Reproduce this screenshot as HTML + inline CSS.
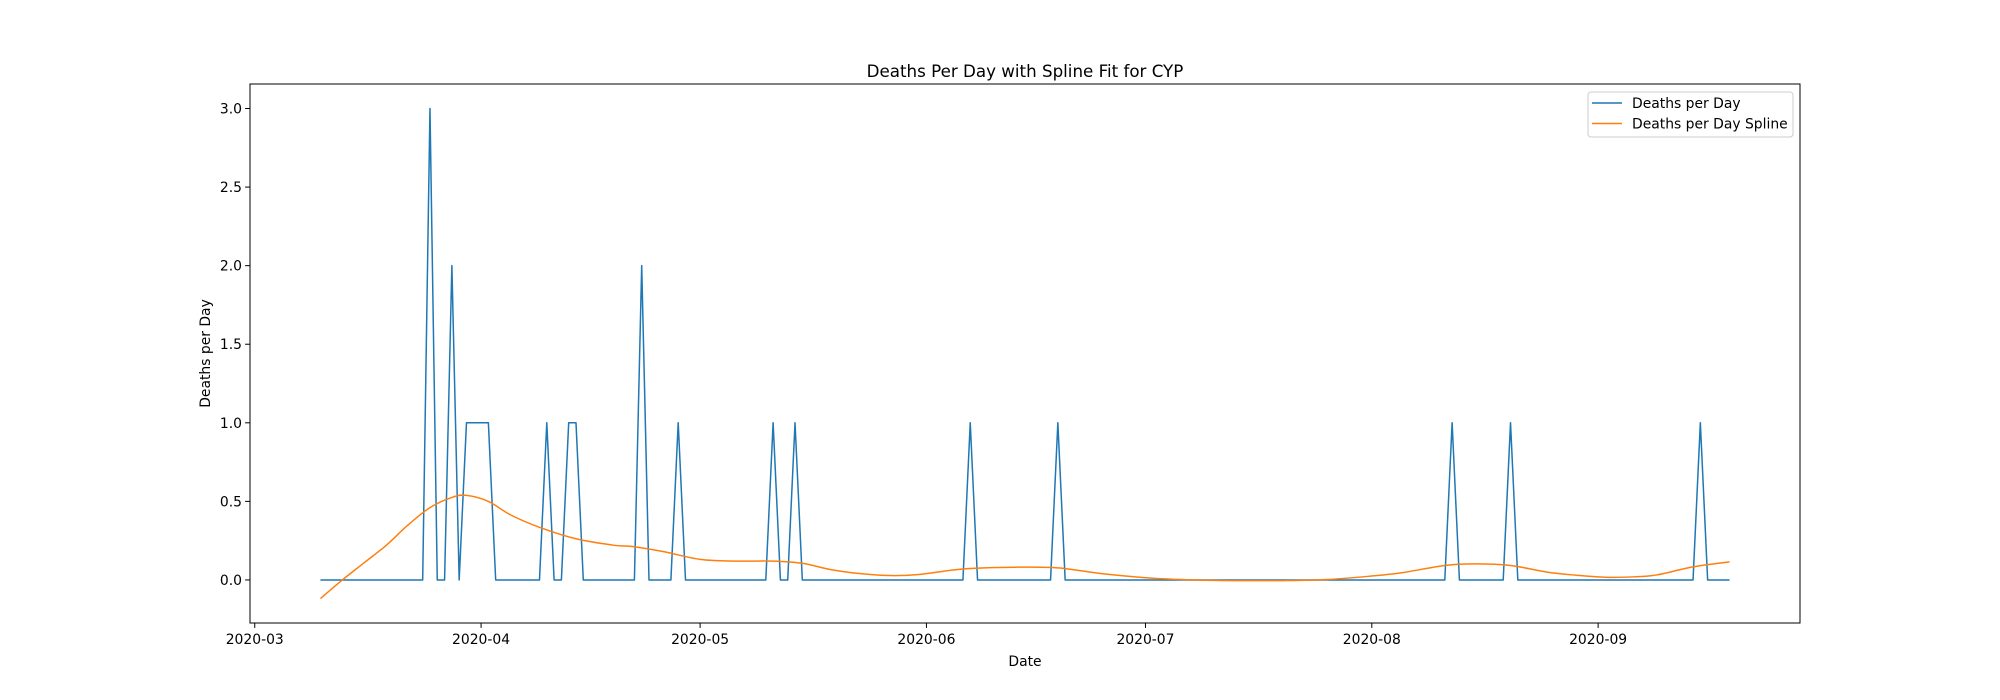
<!DOCTYPE html>
<html><head><meta charset="utf-8"><style>
body{margin:0;background:#fff}
svg{display:block;font-family:"DejaVu Sans","Liberation Sans",sans-serif}
</style></head><body>
<svg id="chart" width="2000" height="700" viewBox="0 0 2000 700" xmlns="http://www.w3.org/2000/svg"></svg>
<script>
// data: day offsets from 2020-03-10
const deathsPerDay = [
0,0,0,0,0,0,0,0,0,0,
0,0,0,0,0,3,0,0,2,0,
1,1,1,1,0,0,0,0,0,0,
0,1,0,0,1,1,0,0,0,0,
0,0,0,0,2,0,0,0,0,1,
0,0,0,0,0,0,0,0,0,0,
0,0,1,0,0,1,0,0,0,0,
0,0,0,0,0,0,0,0,0,0,
0,0,0,0,0,0,0,0,0,1,
0,0,0,0,0,0,0,0,0,0,
0,1,0,0,0,0,0,0,0,0,
0,0,0,0,0,0,0,0,0,0,
0,0,0,0,0,0,0,0,0,0,
0,0,0,0,0,0,0,0,0,0,
0,0,0,0,0,0,0,0,0,0,
0,0,0,0,0,1,0,0,0,0,
0,0,0,1,0,0,0,0,0,0,
0,0,0,0,0,0,0,0,0,0,
0,0,0,0,0,0,0,0,0,1,
0,0,0,0];
const splineDays = [0,3,6,9,12,15,18,20,23,26,30,35,40,43,47,52,57,62,66,70,74,78,82,88,95,101,107,114,120,126,132,138,144,148,154,158,163,168,172,176,180,183,188,193];
const splineValues = [-0.118,0,0.11,0.22,0.35,0.46,0.525,0.538,0.50,0.415,0.335,0.262,0.222,0.211,0.18,0.131,0.12,0.12,0.106,0.065,0.04,0.028,0.035,0.07,0.081,0.077,0.04,0.011,0.0,-0.004,-0.004,0.003,0.025,0.045,0.092,0.102,0.092,0.05,0.03,0.017,0.02,0.032,0.083,0.115];
const yTicks = [0,0.5,1,1.5,2,2.5,3];
const yTickLabels = ["0.0","0.5","1.0","1.5","2.0","2.5","3.0"];
const xTickDays = [-9,22,52,83,113,144,175]; // month starts relative to 2020-03-10
const xTickLabels = ["2020-03","2020-04","2020-05","2020-06","2020-07","2020-08","2020-09"];

const svg = document.getElementById('chart');
const NS = 'http://www.w3.org/2000/svg';
const L=250,R=1800,T=84,B=623;
const nDays = deathsPerDay.length-1;
const xMin = -0.05*nDays, xMax = nDays*1.05;
const x = d => L + (d - xMin)/(xMax-xMin)*(R-L);
let vmin = Math.min(0, ...splineValues), vmax = Math.max(...deathsPerDay);
const yr = vmax - vmin, y0 = vmin-0.05*yr, y1 = vmax+0.05*yr;
const y = v => B - (v - y0)/(y1-y0)*(B-T);
function mk(tag, attrs){const e=document.createElementNS(NS,tag);for(const k in attrs)e.setAttribute(k,attrs[k]);svg.appendChild(e);return e;}

const title = mk('text',{x:(L+R)/2,y:T-7,'text-anchor':'middle','font-size':'16.7'});
title.textContent='Deaths Per Day with Spline Fit for CYP';



yTicks.forEach((t,i)=>{
  const tk = mk('line',{x1:L-4.9,x2:L,y1:y(t),y2:y(t),stroke:'#000','stroke-width':'1'});
  
  
  const lb = mk('text',{x:L-8,y:y(t)+5,'text-anchor':'end','font-size':'13.9'});
  lb.textContent=yTickLabels[i];
  
  
});
xTickDays.forEach((d,i)=>{
  const tk = mk('line',{x1:x(d),x2:x(d),y1:B,y2:B+4.9,stroke:'#000','stroke-width':'1'});
  
  
  const lb = mk('text',{x:x(d),y:B+21,'text-anchor':'middle','font-size':'13.9'});
  lb.textContent=xTickLabels[i];
  
  
});
const xl = mk('text',{x:(L+R)/2,y:B+43,'text-anchor':'middle','font-size':'13.9'});
xl.textContent='Date';


const yl = mk('text',{x:0,y:0,'text-anchor':'middle','font-size':'13.9',transform:`translate(210,${(T+B)/2}) rotate(-90)`});
yl.textContent='Deaths per Day';



// deaths line
const dPts = deathsPerDay.map((v,i)=>x(i).toFixed(2)+','+y(v).toFixed(2)).join(' ');
const dl = mk('polyline',{points:dPts,fill:'none',stroke:'#1f77b4','stroke-width':'1.5','stroke-linejoin':'round'});



// spline (Catmull-Rom through samples)
const P = splineDays.map((d,i)=>[x(d),y(splineValues[i])]);
let dstr = `M${P[0][0]},${P[0][1]}`;
for(let i=0;i<P.length-1;i++){
  const p0=P[Math.max(0,i-1)],p1=P[i],p2=P[i+1],p3=P[Math.min(P.length-1,i+2)];
  const c1=[p1[0]+(p2[0]-p0[0])/6,p1[1]+(p2[1]-p0[1])/6];
  const c2=[p2[0]-(p3[0]-p1[0])/6,p2[1]-(p3[1]-p1[1])/6];
  dstr+=` C${c1[0]},${c1[1]} ${c2[0]},${c2[1]} ${p2[0]},${p2[1]}`;
}
const sl = mk('path',{d:dstr,fill:'none',stroke:'#ff7f0e','stroke-width':'1.5'});



const frame = mk('rect',{x:L,y:T,width:R-L,height:B-T,fill:'none',stroke:'#000','stroke-width':'1'});



// legend
const lg = mk('rect',{x:1588,y:92,width:205,height:45,rx:3,fill:'#fff','fill-opacity':'0.8',stroke:'#ccc','stroke-width':'1'});


[['Deaths per Day','#1f77b4',103],['Deaths per Day Spline','#ff7f0e',123.5]].forEach(([t,c,yy])=>{
  const ln = mk('line',{x1:1592,x2:1622,y1:yy,y2:yy,stroke:c,'stroke-width':'1.5'});
  
  
  const tx = mk('text',{x:1632,y:yy+5,'font-size':'13.9'});
  tx.textContent=t;
  
  
});
</script>
</body></html>
